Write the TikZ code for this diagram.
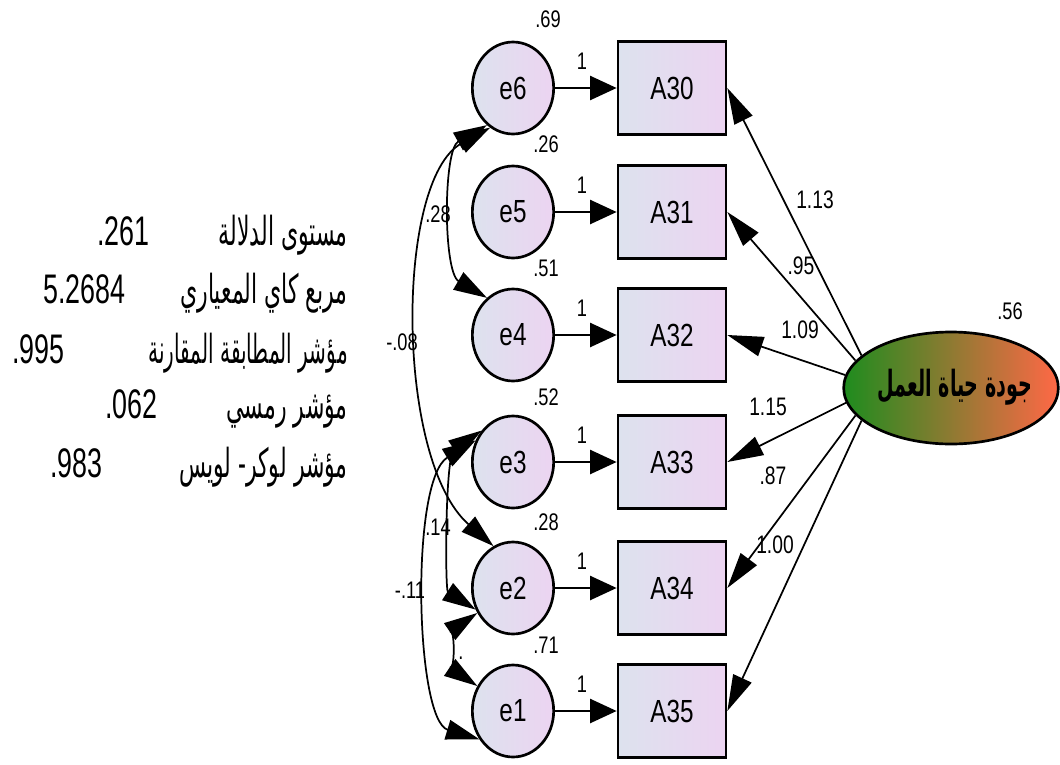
\documentclass[tikz,border=0pt]{standalone}
\usepackage{fontspec}
\setmainfont{Liberation Sans}[FakeStretch=0.76]
\newfontfamily\statfont{Liberation Sans}[FakeStretch=0.65]
\newfontfamily\arabicfont[Script=Arabic,FakeStretch=0.55]{DejaVu Sans}
\newfontfamily\arabicnarrow[Script=Arabic,FakeStretch=0.5]{DejaVu Sans}
\newfontfamily\latentfont[Script=Arabic,FakeStretch=0.53]{DejaVu Sans}
\TeXXeTstate=1
\usetikzlibrary{arrows.meta,shapes.geometric}
\definecolor{boxL}{RGB}{221,226,238}
\definecolor{boxR}{RGB}{236,212,241}
\definecolor{latL}{RGB}{30,140,30}
\definecolor{latR}{RGB}{255,104,70}
\begin{document}
\begin{tikzpicture}[x=0.75pt,y=-0.75pt,
  errnode/.style={ellipse, draw, line width=2pt, minimum width=61pt, minimum height=69pt,
    inner sep=0pt, left color=boxL, right color=boxR, font=\fontsize{24}{24}\selectfont},
  obsbox/.style={rectangle, draw, line width=2pt, minimum width=81pt, minimum height=70pt,
    inner sep=0pt, left color=boxL, right color=boxR, font=\fontsize{24}{24}\selectfont},
  latent/.style={ellipse, draw, line width=2pt, minimum width=161pt, minimum height=84pt,
    inner sep=0pt, left color=latL, right color=latR},
  num/.style={font=\fontsize{18}{18}\selectfont, inner sep=0pt},
  ldnum/.style={font=\fontsize{19}{19}\selectfont, inner sep=0pt},
  path1/.style={line width=2pt, -{Triangle[length=20pt,width=18pt]}},
  load/.style={line width=1.3pt, -{Triangle[length=27pt,width=15pt]}},
  cov/.style={line width=1.3pt, {Triangle[length=25pt,width=15pt]}-{Triangle[length=25pt,width=15pt]}},
  stat/.style={inner sep=0pt, font=\statfont\fontsize{31}{31}\selectfont},
  arab/.style={inner sep=0pt, font=\arabicfont\fontsize{30}{30}\selectfont},
]
\useasboundingbox (0,0) rectangle (1060,764);

% error terms and observed variables
\foreach \e/\a/\y in {6/30/88, 5/31/212, 4/32/335, 3/33/462, 2/34/588, 1/35/711}{
  \node[errnode] (e\e) at (513,\y) {e\e};
  \node[obsbox] (A\a) at (672,\y) {A\a};
  \draw[path1] (e\e) -- (A\a);
  \node[num] (w\e) at (582,\y-27) {1};
}

% variances of the error terms
\node[num] (v6) at (548,19) {.69};
\node[num] (v5) at (546,144) {.26};
\node[num] (v4) at (546,268) {.51};
\node[num] (v3) at (546,397) {.52};
\node[num] (v2) at (546,522) {.28};
\node[num] (v1) at (546,645) {.71};

% latent factor
\node[latent] (F) at (951,388) {};
\node[inner sep=0pt, font=\latentfont\bfseries\fontsize{27}{27}\selectfont] (Ft) at (955,387) {\beginR جودة حياة العمل\endR};
\node[num] (vF) at (1010,311) {.56};

% factor loadings
\draw[load] (F.160.2) -- (A30.east);
\draw[load] (F.164.7) -- (A31.east);
\draw[load] (F.173.8) -- (A32.east);
\draw[load] (F.188.3) -- (A33.east);
\draw[load] (F.196.6) -- (A34.east);
\draw[load] (F.200.1) -- (A35.east);
\node[ldnum] (l1) at (815,200) {1.13};
\node[ldnum] (l2) at (801,266) {.95};
\node[ldnum] (l3) at (800,330) {1.09};
\node[ldnum] (l4) at (768,407) {1.15};
\node[ldnum] (l5) at (773,476) {.87};
\node[ldnum] (l6) at (775,545) {1.00};

% covariances between error terms
\draw[cov] (e6.235) .. controls (443,150) and (443,272) .. (e4.125);
\draw[cov] (e6.240) .. controls (395,180) and (395,460) .. (e2.115);
\draw[cov] (e3.135) .. controls (445,455) and (445,590) .. (e2.210);
\draw[cov] (e3.150) .. controls (410,480) and (415,720) .. (e1.220);
\draw[cov] (e2.215) .. controls (455,628) and (455,671) .. (e1.145);
\node[num] (c1) at (438,214) {.28};
\node[num] (c2) at (402,342) {-.08};
\node[num] (c3) at (438,527) {.14};
\node[num] (c4) at (410,590) {-.11};
\node[num] (c5) at (461,658) {.};

% fit indices
\node[arab, anchor=base east] (t1) at (348,245) {\beginR مستوى الدلالة\endR};
\node[stat, anchor=base west] (n1) at (97,245) {.261};
\node[arab, anchor=base east] (t2) at (348,303) {\beginR مربع كاي المعياري\endR};
\node[stat, anchor=base west] (n2) at (43,303) {5.2684};
\node[arab, anchor=base east, font=\arabicnarrow\fontsize{30}{30}\selectfont] (t3) at (348,363) {\beginR مؤشر المطابقة المقارنة\endR};
\node[stat, anchor=base west] (n3) at (12,363) {.995};
\node[arab, anchor=base east] (t4) at (348,418) {\beginR مؤشر رمسي\endR};
\node[stat, anchor=base west] (n4) at (105,418) {.062};
\node[arab, anchor=base east] (t5) at (348,477) {\beginR مؤشر لوكر- لويس\endR};
\node[stat, anchor=base west] (n5) at (50,477) {.983};
\end{tikzpicture}
\end{document}
